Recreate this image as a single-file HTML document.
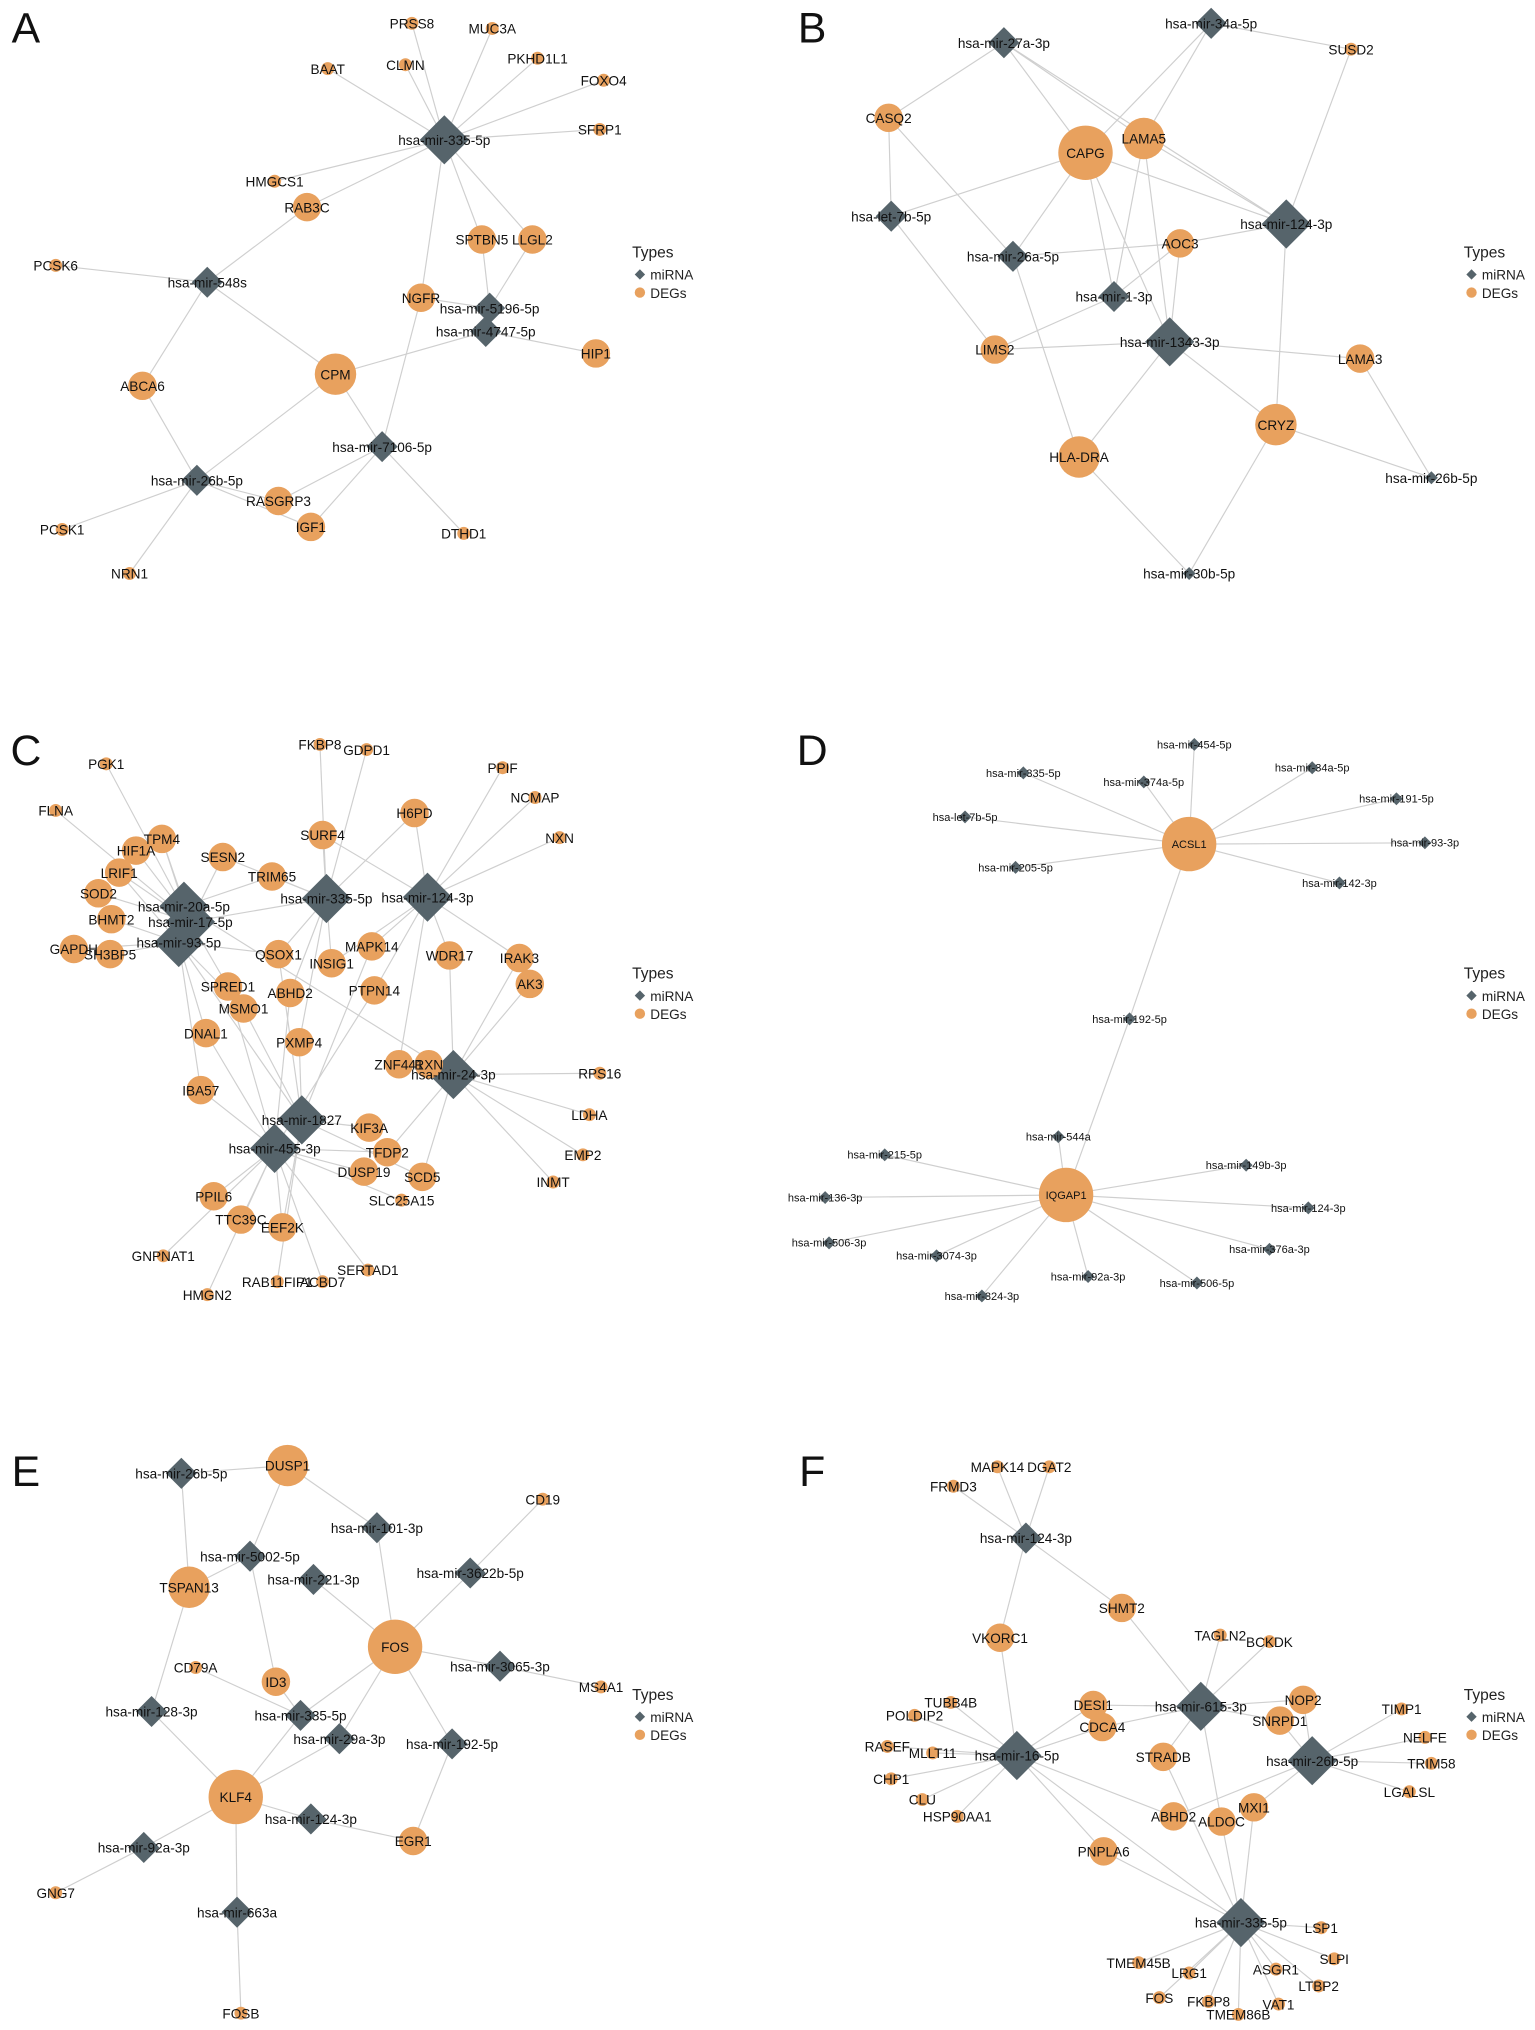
<!DOCTYPE html>
<html><head><meta charset="utf-8"><style>
html,body{margin:0;padding:0;background:#fff;}
svg{display:block;font-family:"Liberation Sans",Arial,sans-serif;}
</style></head><body>
<svg id="fig" width="1535" height="2030" viewBox="0 0 1185 1568" preserveAspectRatio="none" xmlns="http://www.w3.org/2000/svg"></svg>
<script>
// node: [id, label, type(m=miRNA,d=DEG), size(s,m,l,x), x, y]
const nodesA=[["a335","hsa-mir-335-5p","m","l",343,108],["a548","hsa-mir-548s","m","m",160,218],["a5196","hsa-mir-5196-5p","m","m",378,238],["a4747","hsa-mir-4747-5p","m","m",375,256],["a7106","hsa-mir-7106-5p","m","m",295,345],["a26b","hsa-mir-26b-5p","m","m",152,371],
["PRSS8","PRSS8","d","s",318,18],["MUC3A","MUC3A","d","s",380,22],["BAAT","BAAT","d","s",253,53],["CLMN","CLMN","d","s",313,50],["PKHD1L1","PKHD1L1","d","s",415,45],["FOXO4","FOXO4","d","s",466,62],["SFRP1","SFRP1","d","s",463,100],["HMGCS1","HMGCS1","d","s",212,140],["RAB3C","RAB3C","d","m",237,160],["SPTBN5","SPTBN5","d","m",372,185],["LLGL2","LLGL2","d","m",411,185],["PCSK6","PCSK6","d","s",43,205],["NGFR","NGFR","d","m",325,230],["CPM","CPM","d","l",259,289],["HIP1","HIP1","d","m",460,273],["ABCA6","ABCA6","d","m",110,298],["RASGRP3","RASGRP3","d","m",215,387],["IGF1","IGF1","d","m",240,407],["DTHD1","DTHD1","d","s",358,412],["PCSK1","PCSK1","d","s",48,409],["NRN1","NRN1","d","s",100,443]];
const edgesA=[["a335","PRSS8"],["a335","MUC3A"],["a335","BAAT"],["a335","CLMN"],["a335","PKHD1L1"],["a335","FOXO4"],["a335","SFRP1"],["a335","HMGCS1"],["a335","RAB3C"],["a335","SPTBN5"],["a335","LLGL2"],["a335","NGFR"],["a548","RAB3C"],["a548","PCSK6"],["a548","ABCA6"],["a548","CPM"],["a5196","SPTBN5"],["a5196","LLGL2"],["a5196","NGFR"],["a4747","CPM"],["a4747","HIP1"],["a7106","CPM"],["a7106","RASGRP3"],["a7106","IGF1"],["a7106","DTHD1"],["a7106","NGFR"],["a26b","ABCA6"],["a26b","PCSK1"],["a26b","NRN1"],["a26b","RASGRP3"],["a26b","IGF1"],["a26b","CPM"]];

const nodesB=[["b27a","hsa-mir-27a-3p","m","m",775,33],["b34a","hsa-mir-34a-5p","m","m",935,18],["blet","hsa-let-7b-5p","m","m",688,167],["b26a","hsa-mir-26a-5p","m","m",782,198],["b124","hsa-mir-124-3p","m","l",993,173],["b1","hsa-mir-1-3p","m","m",860,229],["b1343","hsa-mir-1343-3p","m","l",903,264],["b26b","hsa-mir-26b-5p","m","s",1105,369],["b30b","hsa-mir-30b-5p","m","s",918,443],
["SUSD2","SUSD2","d","s",1043,38],["CASQ2","CASQ2","d","m",686,91],["CAPG","CAPG","d","x",838,118],["LAMA5","LAMA5","d","l",883,107],["AOC3","AOC3","d","m",911,188],["LIMS2","LIMS2","d","m",768,270],["LAMA3","LAMA3","d","m",1050,277],["CRYZ","CRYZ","d","l",985,328],["HLA-DRA","HLA-DRA","d","l",833,353]];
const edgesB=[["b27a","CASQ2"],["b27a","CAPG"],["b27a","LAMA5"],["b27a","b124"],["b34a","CAPG"],["b34a","LAMA5"],["b34a","SUSD2"],["blet","CASQ2"],["blet","CAPG"],["blet","LIMS2"],["b26a","CASQ2"],["b26a","CAPG"],["b26a","AOC3"],["b26a","HLA-DRA"],["b124","CAPG"],["b124","LAMA5"],["b124","AOC3"],["b124","CRYZ"],["b124","SUSD2"],["b1","CAPG"],["b1","LAMA5"],["b1","LIMS2"],["b1","AOC3"],["b1343","LAMA5"],["b1343","AOC3"],["b1343","LIMS2"],["b1343","LAMA3"],["b1343","CRYZ"],["b1343","HLA-DRA"],["b1343","CAPG"],["b26b","CRYZ"],["b26b","LAMA3"],["b30b","HLA-DRA"],["b30b","CRYZ"]];

const nodesC=[["c20","hsa-mir-20a-5p","m","l",142,700],["c17","hsa-mir-17-5p","m","l",147,712],["c93","hsa-mir-93-5p","m","l",138,728],["c335","hsa-mir-335-5p","m","l",252,694],["c124","hsa-mir-124-3p","m","l",330,693],["c24","hsa-mir-24-3p","m","l",350,830],["c1827","hsa-mir-1827","m","l",233,865],["c455","hsa-mir-455-3p","m","l",212,887],
["PGK1","PGK1","d","s",82,590],["FLNA","FLNA","d","s",43,626],["FKBP8","FKBP8","d","s",247,575],["GDPD1","GDPD1","d","s",283,579],["PPIF","PPIF","d","s",388,593],["NCMAP","NCMAP","d","s",413,616],["NXN","NXN","d","s",432,647],["TPM4","TPM4","d","m",125,648],["HIF1A","HIF1A","d","m",105,657],["LRIF1","LRIF1","d","m",92,674],["SOD2","SOD2","d","m",76,690],["BHMT2","BHMT2","d","m",86,710],["GAPDH","GAPDH","d","m",57,733],["SH3BP5","SH3BP5","d","m",85,737],["SESN2","SESN2","d","m",172,662],["SURF4","SURF4","d","m",249,645],["H6PD","H6PD","d","m",320,628],["TRIM65","TRIM65","d","m",210,677],["QSOX1","QSOX1","d","m",215,737],["INSIG1","INSIG1","d","m",256,744],["MAPK14","MAPK14","d","m",287,731],["WDR17","WDR17","d","m",347,738],["IRAK3","IRAK3","d","m",401,740],["AK3","AK3","d","m",409,760],["SPRED1","SPRED1","d","m",176,762],["MSMO1","MSMO1","d","m",188,779],["ABHD2","ABHD2","d","m",224,767],["PTPN14","PTPN14","d","m",289,765],["DNAL1","DNAL1","d","m",159,798],["PXMP4","PXMP4","d","m",231,805],["ZNF441","ZNF441","d","m",308,822],["RXN","RXN","d","m",331,822],["RPS16","RPS16","d","s",463,829],["IBA57","IBA57","d","m",155,842],["LDHA","LDHA","d","s",455,861],["KIF3A","KIF3A","d","m",285,871],["TFDP2","TFDP2","d","m",299,890],["DUSP19","DUSP19","d","m",281,905],["EMP2","EMP2","d","s",450,892],["SCD5","SCD5","d","m",326,909],["INMT","INMT","d","s",427,913],["SLC25A15","SLC25A15","d","s",310,927],["PPIL6","PPIL6","d","m",165,924],["TTC39C","TTC39C","d","m",186,942],["EEF2K","EEF2K","d","m",218,948],["GNPNAT1","GNPNAT1","d","s",126,970],["SERTAD1","SERTAD1","d","s",284,981],["HMGN2","HMGN2","d","s",160,1000],["RAB11FIP1","RAB11FIP1","d","s",214,990],["ACBD7","ACBD7","d","s",249,990]];
const edgesC=[["PGK1","c17"],["FLNA","c17"],["FKBP8","c335"],["GDPD1","c335"],["PPIF","c124"],["NCMAP","c124"],["NXN","c124"],["TPM4","c17"],["TPM4","c20"],["HIF1A","c17"],["LRIF1","c17"],["LRIF1","c93"],["SOD2","c17"],["BHMT2","c93"],["GAPDH","c93"],["SH3BP5","c93"],["SESN2","c17"],["SESN2","c335"],["SURF4","c335"],["SURF4","c124"],["H6PD","c124"],["H6PD","c335"],["TRIM65","c20"],["TRIM65","c335"],["QSOX1","c93"],["QSOX1","c1827"],["QSOX1","c335"],["INSIG1","c335"],["INSIG1","c124"],["MAPK14","c124"],["MAPK14","c1827"],["WDR17","c124"],["WDR17","c24"],["IRAK3","c124"],["IRAK3","c24"],["AK3","c24"],["SPRED1","c17"],["SPRED1","c455"],["MSMO1","c93"],["MSMO1","c1827"],["ABHD2","c335"],["ABHD2","c455"],["PTPN14","c124"],["PTPN14","c455"],["DNAL1","c93"],["DNAL1","c455"],["PXMP4","c335"],["PXMP4","c1827"],["ZNF441","c124"],["ZNF441","c24"],["RXN","c24"],["RPS16","c24"],["IBA57","c93"],["IBA57","c455"],["LDHA","c24"],["KIF3A","c1827"],["TFDP2","c455"],["TFDP2","c24"],["DUSP19","c455"],["EMP2","c24"],["SCD5","c24"],["SCD5","c1827"],["INMT","c24"],["SLC25A15","c455"],["PPIL6","c455"],["TTC39C","c455"],["EEF2K","c455"],["EEF2K","c1827"],["GNPNAT1","c455"],["SERTAD1","c455"],["HMGN2","c455"],["RAB11FIP1","c1827"],["ACBD7","c455"],["c93","c1827"],["c20","c24"],["c17","c335"]];

const nodesD=[["ACSL1","ACSL1","d","x",918,652],["IQGAP1","IQGAP1","d","x",823,923],["d335","hsa-mir-335-5p","m","s",790,597],["d454","hsa-mir-454-5p","m","s",922,575],["d374","hsa-mir-374a-5p","m","s",883,604],["d34a","hsa-mir-34a-5p","m","s",1013,593],["dlet","hsa-let-7b-5p","m","s",745,631],["d191","hsa-mir-191-5p","m","s",1078,617],["d93","hsa-mir-93-3p","m","s",1100,651],["d205","hsa-mir-205-5p","m","s",784,670],["d142","hsa-mir-142-3p","m","s",1034,682],["d192","hsa-mir-192-5p","m","s",872,787],["d544","hsa-mir-544a","m","s",817,878],["d215","hsa-mir-215-5p","m","s",683,892],["d149","hsa-mir-149b-3p","m","s",962,900],["d136","hsa-mir-136-3p","m","s",637,925],["d124","hsa-mir-124-3p","m","s",1010,933],["d506a","hsa-mir-506-3p","m","s",640,960],["d3074","hsa-mir-3074-3p","m","s",723,970],["d376","hsa-mir-376a-3p","m","s",980,965],["d92a","hsa-mir-92a-3p","m","s",840,986],["d506b","hsa-mir-506-5p","m","s",924,991],["d324","hsa-mir-324-3p","m","s",758,1001]];
const edgesD=[["ACSL1","d335"],["ACSL1","d454"],["ACSL1","d374"],["ACSL1","d34a"],["ACSL1","dlet"],["ACSL1","d191"],["ACSL1","d93"],["ACSL1","d205"],["ACSL1","d142"],["ACSL1","d192"],["IQGAP1","d192"],["IQGAP1","d544"],["IQGAP1","d215"],["IQGAP1","d149"],["IQGAP1","d136"],["IQGAP1","d124"],["IQGAP1","d506a"],["IQGAP1","d3074"],["IQGAP1","d376"],["IQGAP1","d92a"],["IQGAP1","d506b"],["IQGAP1","d324"]];

const nodesE=[["e26b","hsa-mir-26b-5p","m","m",140,1138],["e5002","hsa-mir-5002-5p","m","m",193,1202],["e101","hsa-mir-101-3p","m","m",291,1180],["e221","hsa-mir-221-3p","m","m",242,1220],["e3622","hsa-mir-3622b-5p","m","m",363,1215],["e3065","hsa-mir-3065-3p","m","m",386,1287],["e128","hsa-mir-128-3p","m","m",117,1322],["e335","hsa-mir-335-5p","m","m",232,1325],["e29a","hsa-mir-29a-3p","m","m",262,1343],["e192","hsa-mir-192-5p","m","m",349,1347],["e124","hsa-mir-124-3p","m","m",240,1405],["e92a","hsa-mir-92a-3p","m","m",111,1427],["e663","hsa-mir-663a","m","m",183,1477],
["DUSP1","DUSP1","d","l",222,1132],["CD19","CD19","d","s",419,1158],["TSPAN13","TSPAN13","d","l",146,1226],["FOS","FOS","d","x",305,1272],["CD79A","CD79A","d","s",151,1288],["ID3","ID3","d","m",213,1299],["MS4A1","MS4A1","d","s",464,1303],["KLF4","KLF4","d","x",182,1388],["EGR1","EGR1","d","m",319,1422],["GNG7","GNG7","d","s",43,1462],["FOSB","FOSB","d","s",186,1555]];
const edgesE=[["e26b","TSPAN13"],["e26b","DUSP1"],["e5002","DUSP1"],["e5002","TSPAN13"],["e5002","ID3"],["e101","DUSP1"],["e101","FOS"],["e221","FOS"],["e3622","FOS"],["e3622","CD19"],["e3065","FOS"],["e3065","MS4A1"],["e128","TSPAN13"],["e128","KLF4"],["e335","CD79A"],["e335","FOS"],["e335","KLF4"],["e335","ID3"],["e29a","FOS"],["e29a","KLF4"],["e192","FOS"],["e192","EGR1"],["e124","KLF4"],["e124","EGR1"],["e92a","KLF4"],["e92a","GNG7"],["e663","KLF4"],["e663","FOSB"]];

const nodesF=[["f124","hsa-mir-124-3p","m","m",792,1188],["f615","hsa-mir-615-3p","m","l",927,1318],["f16","hsa-mir-16-5p","m","l",785,1356],["f26b","hsa-mir-26b-5p","m","l",1013,1360],["f335","hsa-mir-335-5p","m","l",958,1485],
["MAPK14f","MAPK14","d","s",770,1133],["DGAT2","DGAT2","d","s",810,1133],["FRMD3","FRMD3","d","s",736,1148],["SHMT2","SHMT2","d","m",866,1242],["VKORC1","VKORC1","d","m",772,1265],["TAGLN2","TAGLN2","d","s",942,1263],["BCKDK","BCKDK","d","s",980,1268],["DESI1","DESI1","d","m",844,1317],["NOP2","NOP2","d","m",1006,1313],["TIMP1","TIMP1","d","s",1082,1320],["TUBB4B","TUBB4B","d","s",734,1315],["POLDIP2","POLDIP2","d","s",706,1325],["SNRPD1","SNRPD1","d","m",988,1329],["CDCA4","CDCA4","d","m",851,1334],["NELFE","NELFE","d","s",1100,1342],["RASEF","RASEF","d","s",685,1349],["MLLT11","MLLT11","d","s",720,1354],["STRADB","STRADB","d","m",898,1357],["TRIM58","TRIM58","d","s",1105,1362],["CHP1","CHP1","d","s",688,1374],["LGALSL","LGALSL","d","s",1088,1384],["CLU","CLU","d","s",712,1390],["HSP90AA1","HSP90AA1","d","s",739,1403],["ABHD2f","ABHD2","d","m",906,1403],["ALDOC","ALDOC","d","m",943,1407],["MXI1","MXI1","d","m",968,1396],["PNPLA6","PNPLA6","d","m",852,1430],["LSP1","LSP1","d","s",1020,1489],["SLPI","SLPI","d","s",1030,1513],["TMEM45B","TMEM45B","d","s",879,1516],["ASGR1","ASGR1","d","s",985,1521],["LRG1","LRG1","d","s",918,1524],["LTBP2","LTBP2","d","s",1018,1534],["FOSf","FOS","d","s",895,1543],["FKBP8f","FKBP8","d","s",933,1546],["VAT1","VAT1","d","s",987,1548],["TMEM86B","TMEM86B","d","s",956,1556]];
const edgesF=[["f124","MAPK14f"],["f124","DGAT2"],["f124","FRMD3"],["f124","SHMT2"],["f124","VKORC1"],["f615","SHMT2"],["f615","TAGLN2"],["f615","BCKDK"],["f615","DESI1"],["f615","NOP2"],["f615","SNRPD1"],["f615","CDCA4"],["f615","STRADB"],["f615","ALDOC"],["f16","VKORC1"],["f16","TUBB4B"],["f16","POLDIP2"],["f16","RASEF"],["f16","MLLT11"],["f16","CHP1"],["f16","CLU"],["f16","HSP90AA1"],["f16","DESI1"],["f16","CDCA4"],["f16","ABHD2f"],["f16","PNPLA6"],["f16","f335"],["f26b","NOP2"],["f26b","TIMP1"],["f26b","NELFE"],["f26b","TRIM58"],["f26b","LGALSL"],["f26b","SNRPD1"],["f26b","MXI1"],["f26b","ABHD2f"],["f335","LSP1"],["f335","SLPI"],["f335","TMEM45B"],["f335","ASGR1"],["f335","LRG1"],["f335","LTBP2"],["f335","FOSf"],["f335","FKBP8f"],["f335","VAT1"],["f335","TMEM86B"],["f335","MXI1"],["f335","ALDOC"],["f335","PNPLA6"],["f335","STRADB"]];

const panelLetters=["A","B","C","D","E","F"];
const letterPos=[[20,20],[627,20],[20,578],[627,578],[20,1135],[627,1135]];
const legendPos=[[488,195],[1130,195],[488,752],[1130,752],[488,1309],[1130,1309]];

const NS="http://www.w3.org/2000/svg";
const svg=document.getElementById("fig");
const DR={s:5,m:11,l:16,x:21};
const MR={s:5,m:12,l:19,x:21};
function mk(tag,attrs,parent){const e=document.createElementNS(NS,tag);for(const k in attrs)e.setAttribute(k,attrs[k]);(parent||svg).appendChild(e);return e;}
const panels=[[nodesA,edgesA],[nodesB,edgesB],[nodesC,edgesC],[nodesD,edgesD],[nodesE,edgesE],[nodesF,edgesF]];
panels.forEach((p,pi)=>{
  const [nodes,edges]=p;
  const g=mk("g",{});
  
  
  const idx={};nodes.forEach(n=>idx[n[0]]=n);
  const small=(pi===3);
  edges.forEach(e=>{const a=idx[e[0]],b=idx[e[1]];if(!a||!b)return;
    const l=mk("line",{x1:a[4],y1:a[5],x2:b[4],y2:b[5],stroke:"#cfcfcf","stroke-width":0.9},g);
    
    
  });
  nodes.forEach(n=>{
    let el;
    if(n[2]==="m"){const r=MR[n[3]];
      el=mk("polygon",{points:`${n[4]},${n[5]-r} ${n[4]+r},${n[5]} ${n[4]},${n[5]+r} ${n[4]-r},${n[5]}`,fill:"#56646b"},g);
      
    }else{
      el=mk("circle",{cx:n[4],cy:n[5],r:DR[n[3]],fill:"#e8a15e"},g);
      
    }
    
  });
  nodes.forEach(n=>{
    const t=mk("text",{x:n[4],y:n[5]+(small?3:4),"text-anchor":"middle","font-size":small?8.5:(n[2]==="m"?10.5:10.5),fill:"#111"},g);
    t.textContent=n[1];
    
    
  });
  const lp=letterPos[pi];
  const L=mk("text",{x:lp[0],y:lp[1]+13,"text-anchor":"middle","font-size":33,fill:"#111"},g);
  L.textContent=panelLetters[pi];
  
  
  const lg=legendPos[pi];
  const lgG=mk("g",{},g);
  
  
  const tt=mk("text",{x:lg[0],y:lg[1]+4,"font-size":12,fill:"#222"},lgG);tt.textContent="Types";
  
  
  const dm=mk("polygon",{points:`${lg[0]+6},${lg[1]+13} ${lg[0]+10},${lg[1]+17} ${lg[0]+6},${lg[1]+21} ${lg[0]+2},${lg[1]+17}`,fill:"#56646b"},lgG);
  
  
  const t1=mk("text",{x:lg[0]+14,y:lg[1]+21,"font-size":10.5,fill:"#222"},lgG);t1.textContent="miRNA";
  
  
  const c=mk("circle",{cx:lg[0]+6,cy:lg[1]+31,r:4,fill:"#e8a15e"},lgG);
  
  
  const t2=mk("text",{x:lg[0]+14,y:lg[1]+35,"font-size":10.5,fill:"#222"},lgG);t2.textContent="DEGs";
  
  
});
</script>
</body></html>
